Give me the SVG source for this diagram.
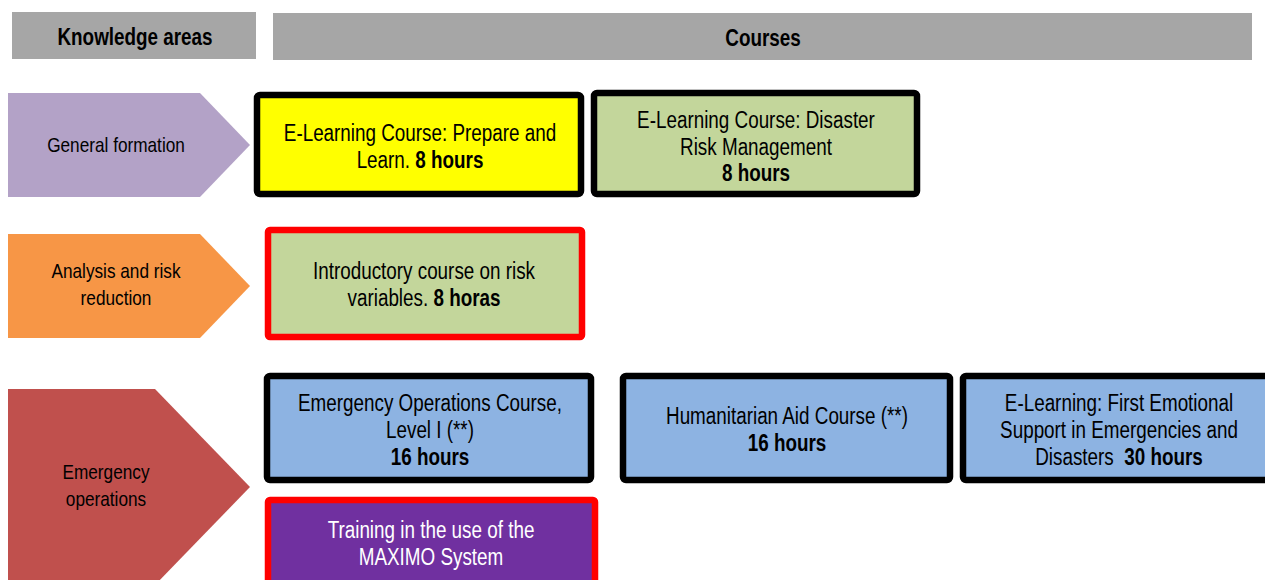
<svg xmlns="http://www.w3.org/2000/svg" width="1265" height="580" viewBox="0 0 1265 580">
<style>
.hdr{fill:#a6a6a6}
.hdrt{font-family:"Liberation Sans",Arial,sans-serif;font-weight:bold;font-size:23px;fill:#000;text-anchor:middle}
.t{font-family:"Liberation Sans",Arial,sans-serif;font-size:23px;fill:#000;text-anchor:middle}
.lbl{font-family:"Liberation Sans",Arial,sans-serif;font-size:21px;fill:#000;text-anchor:middle}
.w{fill:#fff}
.b{font-weight:bold}
.kb{stroke:#000;stroke-width:6.5}
.kr{stroke:#ff0000;stroke-width:6.5}
</style>
<rect width="1265" height="580" fill="#fff"/>
<g id="header-areas"><rect class="hdr" x="12" y="12" width="244" height="47"/><text class="hdrt" transform="translate(135 0) scale(0.82 1)" x="0" y="45">Knowledge areas</text></g>
<g id="header-courses"><rect class="hdr" x="273" y="13" width="979" height="47"/><text class="hdrt" transform="translate(763 0) scale(0.82 1)" x="0" y="46">Courses</text></g>
<g id="area-general"><polygon points="8,93 200,93 250,145 200,197 8,197" fill="#b3a2c7"/><text class="lbl" transform="translate(116 0) scale(0.82 1)" x="0" y="152">General formation</text></g>
<g id="area-analysis"><polygon points="8,234 200,234 250,286 200,338 8,338" fill="#f79646"/><g transform="translate(116 0) scale(0.82 1)"><text class="lbl" x="0" y="278">Analysis and risk</text><text class="lbl" x="0" y="305">reduction</text></g></g>
<g id="area-emergency"><polygon points="8,389 155,389 250,487 155,585 8,585" fill="#c0504d"/><g transform="translate(106 0) scale(0.82 1)"><text class="lbl" x="0" y="479">Emergency</text><text class="lbl" x="0" y="506">operations</text></g></g>
<g id="course-prepare"><rect class="kb" x="257" y="95" width="324" height="99" rx="3" fill="#ffff00"/><g transform="translate(420 0) scale(0.82 1)"><text class="t" x="0" y="141">E-Learning Course: Prepare and</text><text class="t" x="0" y="168">Learn. <tspan class="b">8 hours</tspan></text></g></g>
<g id="course-drm"><rect class="kb" x="594" y="93" width="323" height="101" rx="3" fill="#c3d69b"/><g transform="translate(756 0) scale(0.82 1)"><text class="t" x="0" y="128">E-Learning Course: Disaster</text><text class="t" x="0" y="155">Risk Management</text><text class="t b" x="0" y="181">8 hours</text></g></g>
<g id="course-risk"><rect class="kr" x="268" y="230" width="314" height="107" rx="2" fill="#c3d69b"/><g transform="translate(424 0) scale(0.82 1)"><text class="t" x="0" y="279">Introductory course on risk</text><text class="t" x="0" y="306">variables. <tspan class="b">8 horas</tspan></text></g></g>
<g id="course-emerg-ops"><rect class="kb" x="267" y="376" width="324" height="104" rx="3" fill="#8db3e2"/><g transform="translate(430 0) scale(0.82 1)"><text class="t" x="0" y="411">Emergency Operations Course,</text><text class="t" x="0" y="438">Level I (**)</text><text class="t b" x="0" y="465">16 hours</text></g></g>
<g id="course-humanitarian"><rect class="kb" x="623" y="376" width="327" height="104" rx="3" fill="#8db3e2"/><g transform="translate(787 0) scale(0.82 1)"><text class="t" x="0" y="424">Humanitarian Aid Course (**)</text><text class="t b" x="0" y="451">16 hours</text></g></g>
<g id="course-emotional"><rect class="kb" x="963" y="376" width="310" height="104" rx="3" fill="#8db3e2"/><g transform="translate(1119 0) scale(0.82 1)"><text class="t" x="0" y="411">E-Learning: First Emotional</text><text class="t" x="0" y="438">Support in Emergencies and</text><text class="t" x="0" y="465" xml:space="preserve">Disasters  <tspan class="b">30 hours</tspan></text></g></g>
<g id="course-maximo"><rect class="kr" x="268" y="500" width="327" height="92" rx="2" fill="#7030a0"/><g transform="translate(431 0) scale(0.82 1)"><text class="t w" x="0" y="538">Training in the use of the</text><text class="t w" x="0" y="565">MAXIMO System</text></g></g>
<g id="connectors"></g>
</svg>
